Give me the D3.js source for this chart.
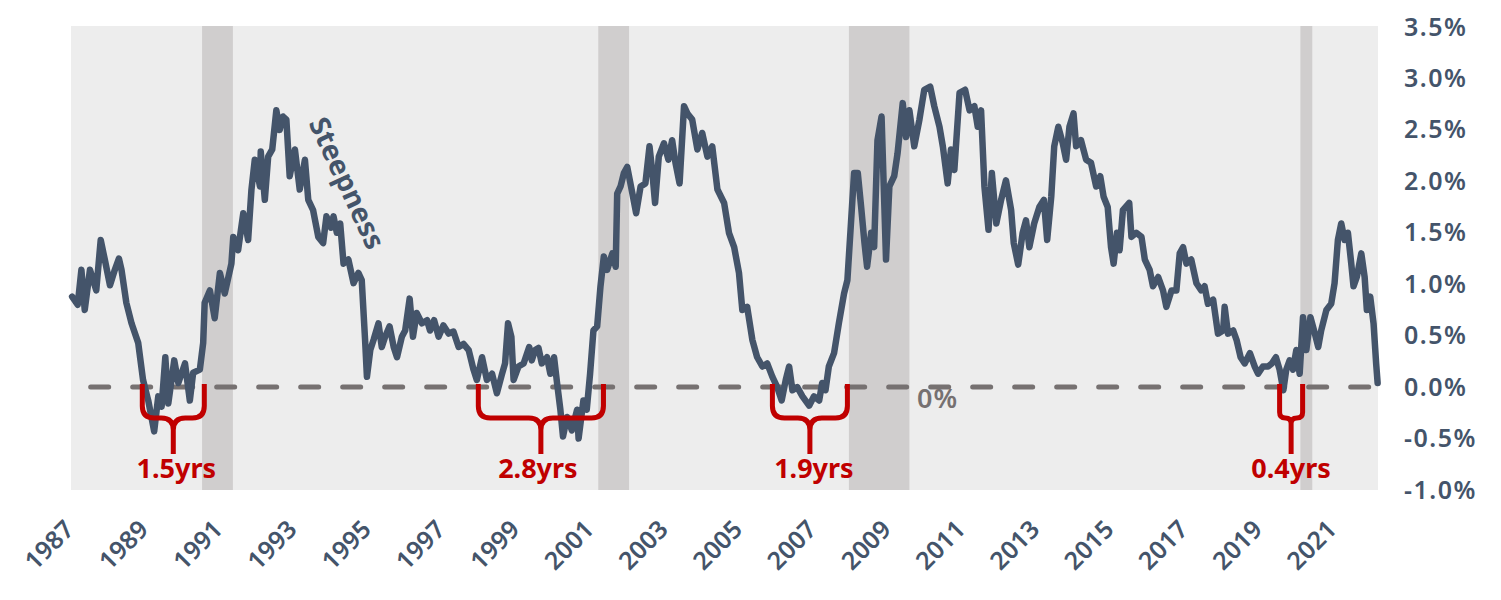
<!DOCTYPE html>
<html>
<head>
<meta charset="utf-8">
<script src="https://cdn.jsdelivr.net/npm/d3@7"></script>
<style>
  html, body { margin: 0; padding: 0; background: #ffffff; }
  svg { display: block; font-family: "Noto Sans", "DejaVu Sans", sans-serif; }
</style>
</head>
<body>
<svg id="chart" width="1501" height="600"></svg>
<script>
// ---------- DATA (decimal year, 10y-2y spread in %) ----------
const years = [
  1987.00,1987.15,1987.25,1987.34,1987.48,1987.65,1987.77,1987.88,1988.02,1988.15,1988.26,1988.33,1988.46,1988.60,1988.78,1988.91,
  1989.05,1989.21,1989.32,1989.41,1989.51,1989.59,1989.75,1989.86,1990.04,1990.17,1990.26,1990.44,1990.53,1990.57,1990.71,1990.84,
  1990.98,1991.11,1991.29,1991.34,1991.47,1991.61,1991.74,1991.83,1991.92,1992.06,1992.08,1992.19,1992.28,1992.39,1992.50,1992.59,
  1992.68,1992.77,1992.86,1993.00,1993.13,1993.27,1993.36,1993.49,1993.63,1993.76,1993.85,1993.97,1994.04,1994.13,1994.22,1994.31,
  1994.44,1994.58,1994.71,1994.80,1994.89,1994.94,1995.03,1995.12,1995.25,1995.34,1995.43,1995.55,1995.66,1995.75,1995.88,1995.97,
  1996.09,1996.18,1996.28,1996.42,1996.56,1996.64,1996.75,1996.87,1997.00,1997.14,1997.27,1997.41,1997.54,1997.68,1997.81,1997.90,
  1998.04,1998.17,1998.31,1998.44,1998.58,1998.66,1998.74,1998.83,1998.89,1999.02,1999.16,1999.31,1999.38,1999.47,1999.56,1999.65,
  1999.79,1999.88,1999.98,2000.06,2000.15,2000.22,2000.33,2000.46,2000.60,2000.64,2000.77,2000.86,2000.95,2001.04,2001.14,2001.23,
  2001.32,2001.41,2001.55,2001.64,2001.68,2001.77,2001.86,2001.95,2002.09,2002.19,2002.31,2002.44,2002.55,2002.62,2002.70,2002.80,
  2002.94,2003.06,2003.16,2003.25,2003.36,2003.48,2003.57,2003.70,2003.84,2003.97,2004.11,2004.24,2004.38,2004.56,2004.69,2004.83,
  2004.96,2005.05,2005.18,2005.32,2005.45,2005.59,2005.72,2005.86,2005.99,2006.11,2006.22,2006.31,2006.40,2006.53,2006.67,2006.85,
  2006.98,2007.12,2007.20,2007.29,2007.38,2007.52,2007.65,2007.79,2007.88,2007.97,2008.06,2008.16,2008.25,2008.34,2008.41,2008.52,
  2008.60,2008.69,2008.80,2008.92,2009.01,2009.14,2009.23,2009.37,2009.46,2009.55,2009.68,2009.82,2009.95,2010.11,2010.22,2010.36,
  2010.45,2010.58,2010.67,2010.76,2010.90,2011.05,2011.17,2011.30,2011.39,2011.48,2011.57,2011.68,2011.77,2011.89,2012.02,2012.15,
  2012.29,2012.36,2012.48,2012.60,2012.69,2012.78,2012.91,2013.05,2013.17,2013.26,2013.37,2013.45,2013.56,2013.68,2013.77,2013.86,
  2013.97,2014.04,2014.17,2014.31,2014.44,2014.58,2014.69,2014.78,2014.89,2014.98,2015.05,2015.14,2015.21,2015.30,2015.47,2015.53,
  2015.66,2015.80,2015.89,2016.02,2016.11,2016.25,2016.38,2016.47,2016.61,2016.74,2016.83,2016.92,2017.01,2017.14,2017.28,2017.41,
  2017.50,2017.59,2017.73,2017.86,2018.00,2018.04,2018.13,2018.27,2018.36,2018.47,2018.58,2018.72,2018.85,2018.94,2019.07,2019.21,
  2019.31,2019.42,2019.52,2019.62,2019.70,2019.79,2019.88,2019.97,2020.06,2020.15,2020.24,2020.35,2020.47,2020.56,2020.64,2020.78,
  2020.91,2021.00,2021.09,2021.18,2021.27,2021.36,2021.45,2021.51,2021.60,2021.72,2021.81,2021.87,2021.96,2022.05,2022.12,2022.16
];
const spread = [
  0.88,0.80,1.14,0.75,1.14,0.94,1.43,1.24,0.99,1.14,1.25,1.14,0.82,0.62,0.43,0.07,
  -0.13,-0.43,-0.09,-0.19,0.29,-0.16,0.26,0.04,0.23,-0.13,0.14,0.17,0.43,0.82,0.94,0.67,
  1.11,0.91,1.20,1.46,1.33,1.69,1.43,1.92,2.21,1.95,2.29,1.82,2.24,2.31,2.69,2.50,
  2.63,2.60,2.05,2.31,1.92,2.21,1.82,1.72,1.46,1.40,1.66,1.55,1.66,1.50,1.59,1.20,
  1.24,1.01,1.11,1.04,0.46,0.10,0.36,0.46,0.62,0.39,0.49,0.59,0.39,0.29,0.49,0.55,
  0.86,0.49,0.72,0.62,0.65,0.55,0.65,0.49,0.60,0.52,0.54,0.39,0.42,0.36,0.17,0.07,
  0.29,0.07,0.13,-0.06,0.13,0.23,0.62,0.49,0.07,0.20,0.23,0.39,0.26,0.36,0.38,0.23,
  0.29,0.13,0.29,0.04,-0.22,-0.48,-0.29,-0.42,-0.22,-0.50,-0.13,-0.22,0.13,0.55,0.59,0.98,
  1.27,1.14,1.30,1.17,1.88,1.95,2.08,2.14,1.88,1.69,1.95,1.98,2.34,2.11,1.79,2.24,
  2.37,2.21,2.40,2.18,1.98,2.73,2.66,2.60,2.31,2.47,2.24,2.34,1.92,1.79,1.50,1.36,
  1.11,0.75,0.78,0.46,0.29,0.20,0.23,0.10,0.00,-0.13,0.07,0.20,-0.03,0.00,-0.09,-0.18,
  -0.09,-0.13,0.04,-0.03,0.20,0.33,0.62,0.91,1.04,1.56,2.08,2.08,1.75,1.40,1.17,1.50,
  1.36,2.40,2.63,1.24,1.95,2.05,2.27,2.76,2.43,2.69,2.34,2.60,2.89,2.92,2.73,2.53,
  2.34,1.98,2.31,2.11,2.86,2.89,2.69,2.73,2.53,2.69,1.95,1.53,2.08,1.59,1.82,2.01,
  1.72,1.40,1.19,1.50,1.62,1.36,1.59,1.75,1.82,1.43,1.85,2.34,2.53,2.37,2.21,2.53,
  2.66,2.34,2.40,2.21,2.18,1.95,2.05,1.85,1.75,1.36,1.20,1.50,1.33,1.72,1.79,1.46,
  1.50,1.46,1.24,1.14,0.98,1.07,0.94,0.78,0.94,0.94,1.30,1.36,1.20,1.24,1.01,0.94,
  0.98,0.81,0.85,0.52,0.55,0.78,0.52,0.55,0.46,0.29,0.23,0.33,0.20,0.13,0.20,0.20,
  0.23,0.29,0.17,-0.03,0.17,0.26,0.17,0.36,0.13,0.68,0.36,0.68,0.52,0.39,0.55,0.75,
  0.81,1.01,1.43,1.59,1.43,1.50,1.20,0.98,1.07,1.30,1.07,0.75,0.88,0.62,0.23,0.04
];

// NBER recessions (decimal years)
const recStart = [1990.50, 2001.17, 2007.92, 2020.08];
const recEnd   = [1991.33, 2002.00, 2009.55, 2020.40];

// Inversion periods (brace annotations)
const invStart  = [1988.89, 1997.94, 2005.86, 2019.52];
const invEnd    = [1990.56, 2001.31, 2007.88, 2020.14];
const invLabels = ["1.5yrs", "2.8yrs", "1.9yrs", "0.4yrs"];

// Axes
const xTicks = [1987,1989,1991,1993,1995,1997,1999,2001,2003,2005,2007,2009,2011,2013,2015,2017,2019,2021];
const yTicks = [-1.0,-0.5,0.0,0.5,1.0,1.5,2.0,2.5,3.0,3.5];

// ---------- CHART ----------
(function () {
const C_TEXT = "#44546A", C_LINE = "#44546A", C_BG = "#EDEDED", C_REC = "#D0CECE",
      C_ZERO = "#767171", C_RED = "#C00000";

const svg = d3.select("#chart");
const pLeft = 71, pRight = 1378, pTop = 26, pBottom = 490;

const x = d3.scaleLinear().domain([1986.97, 2022.17]).range([pLeft, pRight]);
const y = d3.scaleLinear().domain([-1, 3.5]).range([pBottom, 27]);

// plot background
svg.append("rect").attr("x", pLeft).attr("y", pTop)
  .attr("width", pRight - pLeft).attr("height", pBottom - pTop).attr("fill", C_BG);

// recession bands
svg.append("g").selectAll("rect").data(recStart).join("rect")
  .attr("x", (d) => x(d))
  .attr("y", pTop)
  .attr("width", (d, i) => x(recEnd[i]) - x(d))
  .attr("height", pBottom - pTop)
  .attr("fill", C_REC);

// zero line
svg.append("line")
  .attr("x1", x(1987.5)).attr("x2", x(2022.1))
  .attr("y1", y(0)).attr("y2", y(0))
  .attr("stroke", C_ZERO).attr("stroke-width", 5)
  .attr("stroke-linecap", "round")
  .attr("stroke-dasharray", "18 24");

// main line
const pts = years.map((t, i) => [t, spread[i]]);
svg.append("path").datum(pts)
  .attr("fill", "none").attr("stroke", C_LINE).attr("stroke-width", 6.5)
  .attr("stroke-linejoin", "round").attr("stroke-linecap", "round")
  .attr("d", d3.line().x((d) => x(d[0])).y((d) => y(d[1])));

// braces
const bTop = 0.03, bMid = -0.30, bBot = -0.65, lblV = -0.885;
const gB = svg.append("g");
const lblShift = [3, -3, 4, 0];
invStart.forEach((s, i) => {
  const xa = x(s), xb = x(invEnd[i]), cx = (xa + xb) / 2;
  const yt = y(bTop), ym = y(bMid), yb = y(bBot);
  const r = Math.min(12, (xb - xa) / 4);
  const p = `M${xa},${yt} V${ym - r} Q${xa},${ym} ${xa + r},${ym} H${cx - r} Q${cx},${ym} ${cx},${ym + r} V${yb}` +
            ` M${xb},${yt} V${ym - r} Q${xb},${ym} ${xb - r},${ym} H${cx + r} Q${cx},${ym} ${cx},${ym + r} V${yb}`;
  gB.append("path").attr("d", p).attr("fill", "none")
    .attr("stroke", C_RED).attr("stroke-width", 5);
  gB.append("text").attr("x", cx + lblShift[i]).attr("y", y(lblV))
    .attr("text-anchor", "middle").attr("fill", C_RED)
    .attr("font-size", 27).attr("font-weight", 700)
    .text(invLabels[i]);
});

// 0% label
svg.append("text").attr("x", 917).attr("y", y(-0.205))
  .attr("fill", C_ZERO).attr("font-size", 27).attr("font-weight", 600)
  .attr("letter-spacing", 1)
  .text("0%");

// Steepness label
svg.append("text")
  .attr("transform", "translate(347,183) rotate(65)")
  .attr("text-anchor", "middle").attr("dy", "0.35em")
  .attr("fill", C_TEXT).attr("font-size", 28).attr("font-weight", 700)
  .text("Steepness");

// y axis (right)
const yAxis = svg.append("g").attr("transform", `translate(${pRight},0)`)
  .call(d3.axisRight(y).tickValues(yTicks).tickSize(0).tickPadding(26)
    .tickFormat((d) => d3.format(".1f")(d).replace("\u2212", "-") + "%"));
yAxis.select(".domain").remove();
yAxis.selectAll("text").attr("fill", C_TEXT).attr("font-size", 25)
  .attr("font-weight", 600).attr("letter-spacing", 1.5)
  .attr("font-family", '"Noto Sans", sans-serif');

// x axis
const xAxis = svg.append("g").attr("transform", `translate(0,${pBottom})`)
  .call(d3.axisBottom(x).tickValues(xTicks).tickSize(0).tickFormat(d3.format("d")));
xAxis.select(".domain").remove();
xAxis.selectAll("text")
  .attr("x", 0).attr("y", 0).attr("dy", 0)
  .attr("transform", "translate(3,41) rotate(-45)")
  .attr("text-anchor", "end")
  .attr("fill", C_TEXT).attr("font-size", 25).attr("font-weight", 600)
  .attr("font-family", '"Noto Sans", sans-serif');
})();
</script>
</body>
</html>
